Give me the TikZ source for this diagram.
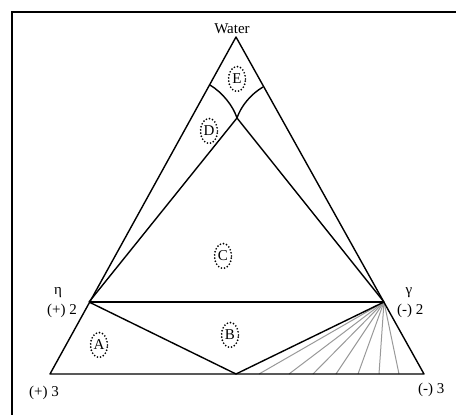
\documentclass[tikz,border=0pt]{standalone}
\usepackage{fontspec}
\setmainfont{Liberation Serif}
\usetikzlibrary{shapes.geometric}
\begin{document}
\begin{tikzpicture}[x=1pt,y=-1pt,
  edge/.style={line width=1.4pt, line join=round},
  fanline/.style={line width=1pt, black!40},
  frameline/.style={line width=2pt},
  region/.style={ellipse, draw, line width=1.9pt, line cap=round, dash pattern=on 0pt off 3.2pt, minimum width=17pt, minimum height=25pt, inner sep=0pt, font=\fontsize{15}{15}\selectfont},
  lab/.style={inner sep=0pt, font=\fontsize{15}{15}\selectfont}]
\useasboundingbox (0,0) rectangle (456,415);
% frame
\draw[frameline] (12,420) -- (12,12) -- (460,12);
% vertices
\coordinate (T) at (236,37);
\coordinate (BL) at (50,374);
\coordinate (BR) at (424,374);
\coordinate (H) at (89,302);
\coordinate (G) at (384,302);
\coordinate (M) at (236,374);
\coordinate (X) at (237,118);
\coordinate (PL) at (210,85);
\coordinate (PR) at (263,87);
% fan end points
\foreach \i/\x in {1/259,2/289,3/313,4/336,5/358,6/379,7/399}{
  \coordinate (F\i) at (\x,374);
}
\foreach \i in {1,...,7}{ \draw[fanline] (G) -- (F\i); }
% outer triangle
\draw[edge] (BL) -- (T) -- (BR) -- cycle;
\draw[edge] (H) -- (G);
\draw[edge] (H) -- (M) -- (G);
\draw[edge] (H) -- (X) -- (G);
\draw[edge] (PL) .. controls (223,93) and (233,106) .. (X);
\draw[edge] (PR) .. controls (251,94) and (241,106) .. (X);
% labels
\node[lab, anchor=base] (water) at (232,33) {Water};
\node[lab, anchor=base] (eta) at (58,294) {η};
\node[lab, anchor=base east] (p2) at (77,314) {(+) 2};
\node[lab, anchor=base west] (p3) at (29,396) {(+) 3};
\node[lab, anchor=base] (gam) at (409,294) {γ};
\node[lab, anchor=base west] (m2) at (397,314) {(-) 2};
\node[lab, anchor=base west] (m3) at (418,393) {(-) 3};
% regions
\node[region] (E) at (237,79) {E};
\node[region] (D) at (209,131) {D};
\node[region] (C) at (223,256) {C};
\node[region] (B) at (230,335) {B};
\node[region] (A) at (99,345) {A};
\end{tikzpicture}
\end{document}
